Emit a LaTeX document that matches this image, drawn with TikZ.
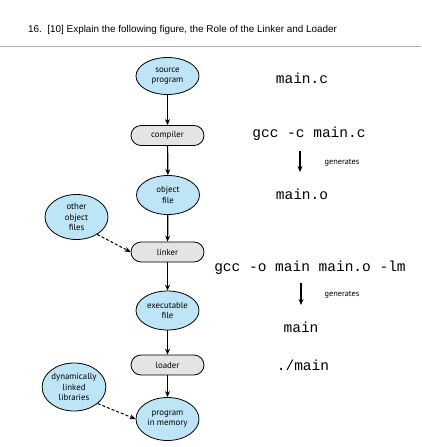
\documentclass[tikz,border=0pt]{standalone}
\usepackage{fontspec}
\setmainfont{Liberation Sans}
\newfontfamily\codefont{Liberation Mono}
\newfontfamily\nodefont{PT Sans}
\usetikzlibrary{shapes.geometric,arrows.meta}
\definecolor{ellblue}{RGB}{190,229,245}
\definecolor{boxgray}{RGB}{228,228,228}
\tikzset{
  ell/.style={ellipse, draw=black, line width=0.8pt, fill=ellblue, inner sep=0pt, minimum width=63pt, minimum height=39pt, align=center, font=\nodefont\fontsize{8.8}{10.5}\selectfont},
  proc/.style={rectangle, rounded corners=10pt, draw=black, line width=0.8pt, fill=boxgray, minimum width=73pt, minimum height=20pt, inner sep=0pt, font=\nodefont\fontsize{8.8}{10.5}\selectfont},
  flow/.style={-{Stealth[length=6pt,width=5pt]}, line width=1.2pt},
  dflow/.style={-{Stealth[length=6pt,width=5pt]}, line width=1pt, densely dashed},
  code/.style={font=\codefont\fontsize{14.5}{16}\selectfont, inner sep=0pt},
  gen/.style={font=\nodefont\fontsize{8.3}{10}\selectfont, inner sep=0pt},
}
\begin{document}
\begin{tikzpicture}[x=1pt,y=1pt]
\useasboundingbox (0,0) rectangle (421,-447);
\node[anchor=west, font=\fontsize{9.9}{11}\selectfont, inner sep=0pt] (title) at (28,-30) {16.\ \ [10] Explain the following figure, the Role of the Linker and Loader};
\draw[gray!60, line width=0.8pt] (0,-46) -- (421,-46);

\node[ell, minimum height=37pt] (src) at (167.5,-76) {source\\program};
\node[proc] (comp) at (167.5,-135.5) {compiler};
\node[ell] (obj) at (168,-195) {object\\file};
\node[proc] (link) at (167.5,-252) {linker};
\node[ell, minimum height=45pt] (other) at (76.5,-217) {other\\object\\files};
\node[ell] (exe) at (167.5,-310.5) {executable\\file};
\node[proc] (load) at (167.5,-365) {loader};
\node[ell, minimum height=43pt] (mem) at (167.5,-419) {program\\in memory};
\node[ell, minimum width=58pt, minimum height=48pt] (dyn) at (74,-387) {dynamically\\linked\\libraries};

\draw[flow] (src) -- (comp);
\draw[flow] (comp) -- (obj);
\draw[flow] (obj) -- (link);
\draw[flow] (link) -- (exe);
\draw[flow] (exe) -- (load);
\draw[flow] (load) -- (mem);
\draw[dflow] (other.-40) -- (link.west);
\draw[dflow] (dyn.-35) -- (mem.west);

\node[code] (c1) at (302,-78) {main.c};
\node[code] (c2) at (309,-134) {gcc -c main.c};
\node[code] (c3) at (302,-194) {main.o};
\node[code] (c4) at (310,-268) {gcc -o main main.o -lm};
\node[code] (c5) at (301,-327) {main};
\node[code] (c6) at (303,-365) {./main};

\coordinate (g1s) at (300,-151);
\coordinate (g1e) at (300,-172);
\draw[flow] (g1s) -- (g1e);
\node[gen] (g1) at (342,-163) {generates};
\coordinate (g2s) at (301,-283);
\coordinate (g2e) at (301,-305);
\draw[flow] (g2s) -- (g2e);
\node[gen] (g2) at (342,-295) {generates};
\end{tikzpicture}
\end{document}
